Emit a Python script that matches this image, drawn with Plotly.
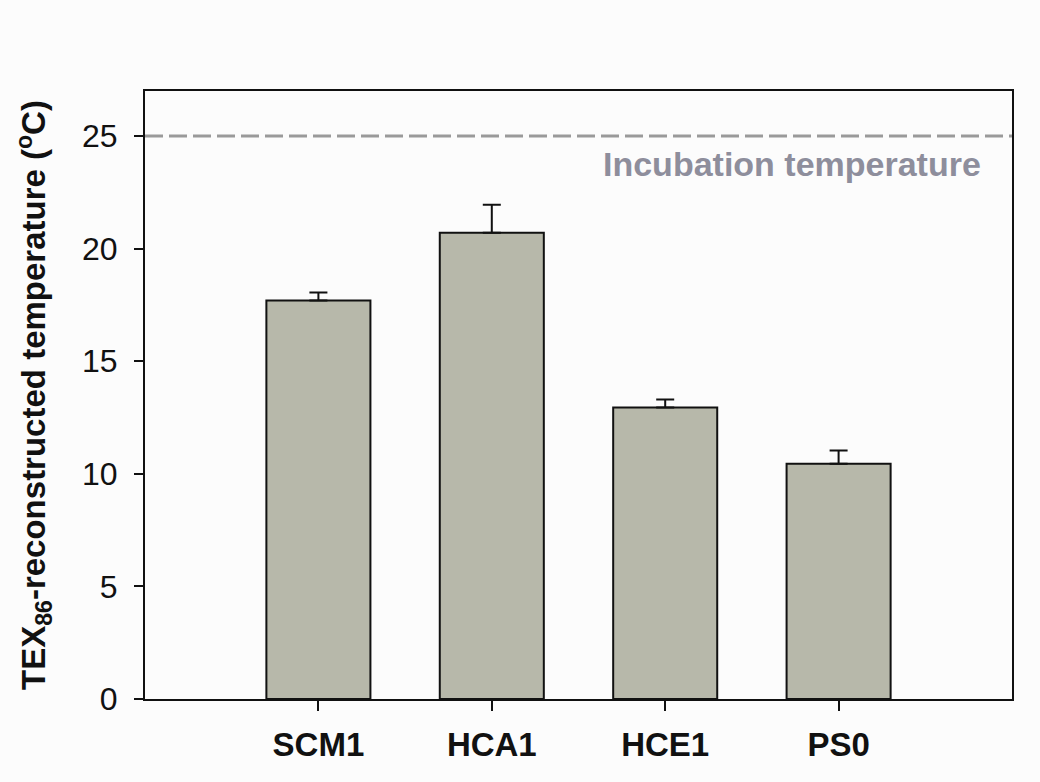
import plotly.graph_objects as go

# Sample sites and their TEX86-derived temperatures (°C) with upper error
sites = ["SCM1", "HCA1", "HCE1", "PS0"]
temperature = [17.7, 20.7, 12.95, 10.45]
error_up = [0.35, 1.25, 0.35, 0.58]

incubation_temp = 25
y_ticks = [0, 5, 10, 15, 20, 25]

x_pos = list(range(len(sites)))

fig = go.Figure()

fig.add_trace(go.Bar(
    x=x_pos,
    y=temperature,
    width=0.6,
    marker=dict(color="#b7b8aa", line=dict(color="#111111", width=2)),
    error_y=dict(type="data", array=error_up, symmetric=False,
                 arrayminus=[0] * len(sites),
                 color="#111111", thickness=2, width=9),
    showlegend=False,
))

# Incubation temperature reference line
fig.add_shape(type="line", xref="paper", yref="y",
              x0=0, x1=1, y0=incubation_temp, y1=incubation_temp,
              line=dict(color="#9a9a9a", width=3, dash="18px,6px"))

fig.add_annotation(x=2.73, y=23.75, xref="x", yref="y",
                   text="Incubation temperature", showarrow=False,
                   font=dict(family="Liberation Sans, Arial", size=34,
                             color="#8e8e9c", weight="bold"))

fig.update_layout(
    width=1040, height=782,
    margin=dict(l=145, r=28, t=91, b=83),
    paper_bgcolor="#fcfcfc",
    plot_bgcolor="#fcfcfc",
    font=dict(family="Liberation Sans, Arial", color="#111111"),
)

fig.update_xaxes(
    range=[-1, 4],
    tickmode="array",
    tickvals=x_pos,
    ticktext=sites,
    tickfont=dict(size=33, weight="bold"),
    ticks="outside", ticklen=10, tickwidth=1.5, tickcolor="#111111",
    ticklabelstandoff=5,
    showline=True, linecolor="#111111", linewidth=2, mirror=True,
    showgrid=False, zeroline=False,
)

fig.update_yaxes(
    range=[0, 27],
    tickmode="array",
    tickvals=y_ticks,
    tickfont=dict(size=32),
    ticks="outside", ticklen=9, tickwidth=1.5, tickcolor="#111111",
    ticklabelstandoff=10,
    showline=True, linecolor="#111111", linewidth=2, mirror=True,
    showgrid=False, zeroline=False,
    title=dict(text="TEX<sub>86</sub>-reconstructed temperature (<sup>o</sup>C)",
               font=dict(size=33, weight="bold"), standoff=26),
)

fig.write_html("out.html")
